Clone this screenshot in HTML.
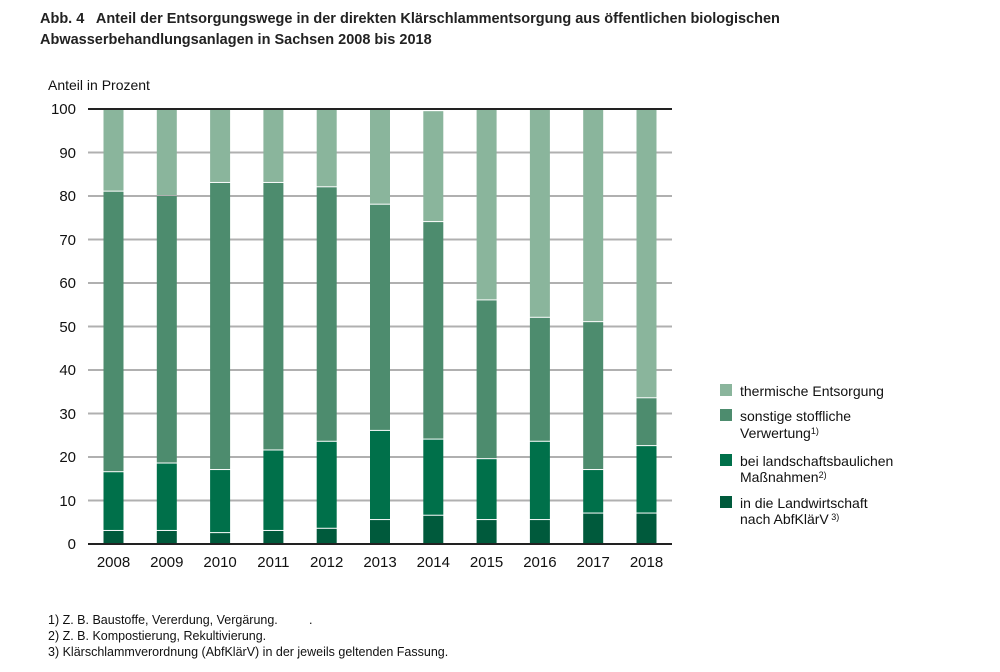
<!DOCTYPE html><html><head><meta charset="utf-8"><style>body{margin:0;background:#fff;width:1000px;height:667px;overflow:hidden}</style></head><body>
<svg width="1000" height="667" xmlns="http://www.w3.org/2000/svg" font-family="Liberation Sans, Arial, sans-serif">
<text x="40" y="23" font-size="14.5" font-weight="bold" fill="#222" xml:space="preserve">Abb. 4   Anteil der Entsorgungswege in der direkten Klärschlammentsorgung aus öffentlichen biologischen</text>
<text x="40" y="44" font-size="14.5" font-weight="bold" fill="#222">Abwasserbehandlungsanlagen in Sachsen 2008 bis 2018</text>
<text x="48" y="90" font-size="14" fill="#111">Anteil in Prozent</text>
<g stroke="#b0b0b0" stroke-width="2">
<line x1="88" x2="672" y1="152.5" y2="152.5"/><line x1="88" x2="672" y1="196" y2="196"/><line x1="88" x2="672" y1="239.5" y2="239.5"/><line x1="88" x2="672" y1="283" y2="283"/><line x1="88" x2="672" y1="326.5" y2="326.5"/><line x1="88" x2="672" y1="370" y2="370"/><line x1="88" x2="672" y1="413.5" y2="413.5"/><line x1="88" x2="672" y1="457" y2="457"/><line x1="88" x2="672" y1="500.5" y2="500.5"/>
</g>
<g font-size="15" fill="#111" text-anchor="end">
<text x="76" y="114">100</text><text x="76" y="158">90</text><text x="76" y="201">80</text><text x="76" y="245">70</text><text x="76" y="288">60</text><text x="76" y="332">50</text><text x="76" y="375">40</text><text x="76" y="419">30</text><text x="76" y="462">20</text><text x="76" y="506">10</text><text x="76" y="549">0</text>
</g>
<g id="bars"></g>
<line x1="88" x2="672" y1="109" y2="109" stroke="#222" stroke-width="2"/>
<line x1="88" x2="672" y1="544" y2="544" stroke="#222" stroke-width="2"/>
<g font-size="15" fill="#111" text-anchor="middle" id="xl"></g>
<g font-size="14" fill="#111">
<rect x="720" y="384" width="12" height="12" fill="#8ab59c"/><text x="740" y="396">thermische Entsorgung</text>
<rect x="720" y="409" width="12" height="12" fill="#4d8c6e"/><text x="740" y="421">sonstige stoffliche</text><text x="740" y="438">Verwertung<tspan font-size="9" dy="-4">1)</tspan></text>
<rect x="720" y="454" width="12" height="12" fill="#00704a"/><text x="740" y="466">bei landschaftsbaulichen</text><text x="740" y="482">Maßnahmen<tspan font-size="9" dy="-4">2)</tspan></text>
<rect x="720" y="496" width="12" height="12" fill="#005a3c"/><text x="740" y="508">in die Landwirtschaft</text><text x="740" y="524">nach AbfKlärV<tspan font-size="9" dy="-4"> 3)</tspan></text>
</g>
<g font-size="12.5" fill="#111">
<text x="48" y="624" xml:space="preserve">1) Z. B. Baustoffe, Vererdung, Vergärung.         .</text>
<text x="48" y="640">2) Z. B. Kompostierung, Rekultivierung.</text>
<text x="48" y="656">3) Klärschlammverordnung (AbfKlärV) in der jeweils geltenden Fassung.</text>
</g>
</svg>
<script>
var d=[[3,16.5,81,100],[3,18.5,80,100],[2.5,17,83,100],[3,21.5,83,100],[3.5,23.5,82,100],[5.5,26,78,100],[6.5,24,74,99.5],[5.5,19.5,56,100],[5.5,23.5,52,100],[7,17,51,100],[7,22.5,33.5,100]];
var c=["#005a3c","#00704a","#4d8c6e","#8ab59c"],ns="http://www.w3.org/2000/svg",g=document.getElementById("bars"),xl=document.getElementById("xl");
function Y(v){return 544-v*4.35}
d.forEach(function(r,i){var cx=113.5+i*53.3,p=0;r.forEach(function(v,j){var e=document.createElementNS(ns,"rect");e.setAttribute("x",cx-10);e.setAttribute("width",20);var top=Y(v),bot=Y(p)-(j?1:0);e.setAttribute("y",top);e.setAttribute("height",Math.max(0,bot-top));e.setAttribute("fill",c[j]);g.appendChild(e);p=v;});
var t=document.createElementNS(ns,"text");t.setAttribute("x",cx);t.setAttribute("y",567);t.textContent=2008+i;xl.appendChild(t);});
</script>
</body></html>
